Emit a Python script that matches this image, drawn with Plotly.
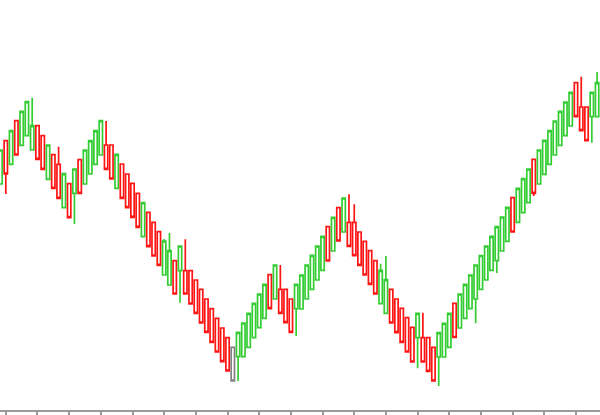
import plotly.graph_objects as go

open_ = [216, 259.3, 235.7, 279.3, 254.7, 264.3, 250, 274.3, 264.3, 220.7,
         245.3, 235.7, 192.3, 216.3, 206.7, 240.3, 216, 226, 235.7, 245,
         255, 255, 211.7, 236, 226, 216.7, 206.7, 163.3, 187.7, 177.7,
         168.3, 125, 115, 139.3, 129.3, 129.3, 129.3, 120, 110.7, 101,
         91.3, 81.7, 72, 62.3, 52.7, 43.3, 43.3, 52.7, 62.3, 72.3,
         81.7, 125.3, 101, 110.7, 110.7, 101, 91.3, 91, 101, 110.7,
         120, 129.7, 173.3, 149, 192.3, 168, 177.7, 177.7, 168, 158.7,
         149.3, 139.3, 96.3, 86.7, 110.7, 101, 91.7, 82.3, 72.7, 62.3,
         62.3, 62.3, 52.7, 43, 43, 52.7, 96.7, 72, 81.7, 91.3,
         101, 110.7, 120, 129.7, 139.3, 149, 158.7, 202.3, 177.7, 187.3,
         197.3, 240.7, 216, 225.7, 235.7, 245, 254.7, 264.3, 274, 317.3,
         293, 293, 283.3, 283.3]
close = [250, 226, 269.3, 245, 288.7, 298.3, 274.3, 240.7, 230.7, 255,
         211.7, 201.7, 226.3, 182.3, 231, 206.7, 250, 259.3, 269.3, 279.3,
         230.7, 221, 245.7, 201.7, 192.3, 182.7, 172.7, 197.3, 153.3, 144,
         134.7, 159, 149.3, 106, 154, 106, 96, 86.7, 77, 67.7,
         57.7, 48, 38.3, 29, 19, 67.7, 77, 86.7, 96.7, 106,
         115.7, 91.3, 135, 86.7, 77.3, 67.7, 115.7, 125, 135, 144.7,
         154, 163.7, 139, 182.7, 159, 202, 153.7, 144.3, 134.7, 125,
         115.7, 106, 129.7, 120.3, 77, 67.3, 57.7, 48, 38, 86.7,
         38, 28.7, 19, 67.3, 76.7, 86.7, 62.5, 106, 115.7, 125,
         135, 144.5, 154, 163.7, 173.3, 183, 192.7, 168, 211.7, 221.3,
         231, 206.7, 250, 259.7, 269.3, 279, 288.7, 298, 307.7, 283.3,
         269.3, 259.3, 307.7, 317.3]
high = [250, 259.3, 269.3, 279.3, 288.7, 298.3, 302.3, 274.3, 264.3, 255,
        245.3, 253.3, 226.3, 216.3, 231, 240.3, 250, 259.3, 269.3, 279.3,
        279, 255, 245.7, 236, 226, 216.7, 206.7, 197.3, 187.7, 177.7,
        168.3, 161, 167, 139.3, 154, 160.7, 129.3, 120, 110.7, 101,
        91.3, 81.7, 72, 62.3, 52.7, 67.7, 77, 86.7, 96.7, 106,
        115.7, 125.3, 135, 135, 110.7, 101, 115.7, 125, 135, 144.7,
        154, 163.7, 173.3, 182.7, 192.3, 202, 205.7, 195.7, 168, 158.7,
        149.3, 139.3, 136.3, 144, 110.7, 101, 91.7, 82.3, 72.7, 86.7,
        87.3, 62.3, 52.7, 67.3, 76.7, 86.7, 96.7, 106, 115.7, 125,
        135, 144.5, 154, 163.7, 173.3, 183, 192.7, 202.3, 211.7, 221.3,
        231, 240.7, 250, 259.7, 269.3, 279, 288.7, 298, 307.7, 317.3,
        323.3, 293, 307.7, 328]
low = [216, 206, 235.7, 245, 254.7, 264.3, 250, 240.7, 230.7, 220.7,
       211.7, 201.7, 192.3, 182.3, 176, 206.7, 216, 226, 235.7, 245,
       230.7, 221, 211.7, 201.7, 192.3, 182.7, 172.7, 163.3, 153.3, 144,
       134.7, 125, 115, 106, 97.3, 106, 96, 86.7, 77, 67.7,
       57.7, 48, 38.3, 29, 19, 19, 43.3, 52.7, 62.3, 72.3,
       81.7, 91.3, 101, 86.7, 77.3, 67.7, 64, 91, 101, 110.7,
       120, 129.7, 139, 149, 159, 168, 153.7, 144.3, 134.7, 125,
       115.7, 106, 96.3, 86.7, 77, 67.3, 57.7, 48, 38, 31.7,
       38, 28.7, 19, 14, 43, 52.7, 62.5, 72, 81.7, 91.3,
       76.7, 110.7, 120, 129.7, 127, 149, 158.7, 168, 177.7, 187.3,
       197.3, 204, 216, 225.7, 235.7, 245, 254.7, 264.3, 274, 283.3,
       269.3, 259.3, 257.3, 283.3]
gray_index = [44]
tick_positions = list(range(1, 114, 6))

x_all = list(range(len(open_)))
main_idx = [i for i in x_all if i not in gray_index]

GREEN = "#33cc33"
RED = "#ff1414"
GRAY = "#808080"

fig = go.Figure()
fig.add_trace(go.Candlestick(
    x=[x_all[i] for i in main_idx],
    open=[open_[i] for i in main_idx],
    high=[high[i] for i in main_idx],
    low=[low[i] for i in main_idx],
    close=[close[i] for i in main_idx],
    increasing=dict(line=dict(color=GREEN, width=1.7), fillcolor="rgba(255,255,255,0)"),
    decreasing=dict(line=dict(color=RED, width=1.7), fillcolor="rgba(255,255,255,0)"),
    whiskerwidth=0,
    showlegend=False,
))
fig.add_trace(go.Candlestick(
    x=[x_all[i] for i in gray_index],
    open=[open_[i] for i in gray_index],
    high=[high[i] for i in gray_index],
    low=[low[i] for i in gray_index],
    close=[close[i] for i in gray_index],
    increasing=dict(line=dict(color=GRAY, width=1.7), fillcolor="rgba(255,255,255,0)"),
    decreasing=dict(line=dict(color=GRAY, width=1.7), fillcolor="rgba(255,255,255,0)"),
    whiskerwidth=0,
    showlegend=False,
))

fig.update_layout(
    width=600, height=415,
    margin=dict(l=0, r=0, t=0, b=5),
    paper_bgcolor="white", plot_bgcolor="white",
    boxgap=0.1,
    xaxis=dict(
        range=[-0.1, 113.55],
        rangeslider=dict(visible=False),
        showgrid=False, zeroline=False,
        showline=True, linecolor="#9a9a9a", linewidth=1.5,
        tickmode="array", tickvals=tick_positions,
        ticks="outside", ticklen=3, tickwidth=1.5, tickcolor="#9a9a9a",
        showticklabels=False,
    ),
    yaxis=dict(range=[-10, 400], visible=False),
)

fig.write_html("out.html")
